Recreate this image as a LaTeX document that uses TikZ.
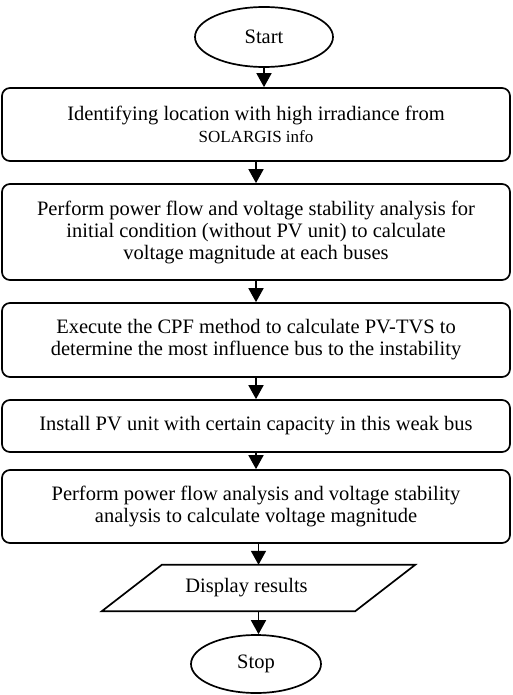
\documentclass[tikz,border=0pt]{standalone}
\usepackage{fontspec}
\setmainfont{Liberation Serif}
\usetikzlibrary{arrows.meta,shapes.geometric}

\begin{document}
\begin{tikzpicture}[x=1pt, y=-1pt,
    proc/.style={draw, rounded corners=8pt, line width=1.7pt, minimum width=508pt, align=center, inner sep=0pt, font=\fontsize{20.5}{22}\selectfont},
    term/.style={draw, ellipse, line width=1.7pt, inner sep=0pt, font=\fontsize{20.5}{22}\selectfont},
    io/.style={minimum width=253pt, minimum height=46pt, inner sep=0pt, font=\fontsize{20.5}{22}\selectfont},
    arr/.style={line width=1.7pt, -{Triangle[length=14pt,width=15pt]}},
]
\useasboundingbox (0,0) rectangle (512,695);

% Terminals and process steps
\node[term, minimum width=138pt, minimum height=60pt] (start) at (264,37) {Start};
\node[proc, minimum height=73pt] (locate) at (256,124.5) {Identifying location with high irradiance from\\ {\fontsize{17}{22}\selectfont SOLARGIS info}};
\node[proc, minimum height=96pt] (initpf) at (256,232) {Perform power flow and voltage stability analysis for\\ initial condition (without PV unit) to calculate\\ voltage magnitude at each buses};
\node[proc, minimum height=74pt] (cpf) at (256,340) {Execute the CPF method to calculate PV-TVS to\\ determine the most influence bus to the instability};
\node[proc, minimum height=52pt] (install) at (256,426) {Install PV unit with certain capacity in this weak bus};
\node[proc, minimum height=73pt] (finalpf) at (256,506.5) {Perform power flow analysis and voltage stability\\ analysis to calculate voltage magnitude};
\node[io] (disp) at (258.5,588) {\hspace*{-24pt}Display results};
\node[term, minimum width=130pt, minimum height=58pt] (stop) at (256,664) {Stop};

% Display slant
\draw[line width=1.7pt] ([xshift=-30pt]disp.south west) -- ([xshift=30pt]disp.north west)
    -- ([xshift=30pt]disp.north east) -- ([xshift=-30pt]disp.south east) -- cycle;

% Arrows
\draw[arr] (start.south) -- (start.south |- locate.north);
\draw[arr] (locate.south) -- (initpf.north);
\draw[arr] (initpf.south) -- (cpf.north);
\draw[arr] (cpf.south) -- (install.north);
\draw[arr] (install.south) -- (finalpf.north);
\draw[arr] (finalpf.south -| disp.center) -- (disp.north);
\draw[arr] (disp.south) -- (disp.south |- stop.north);
\end{tikzpicture}
\end{document}
